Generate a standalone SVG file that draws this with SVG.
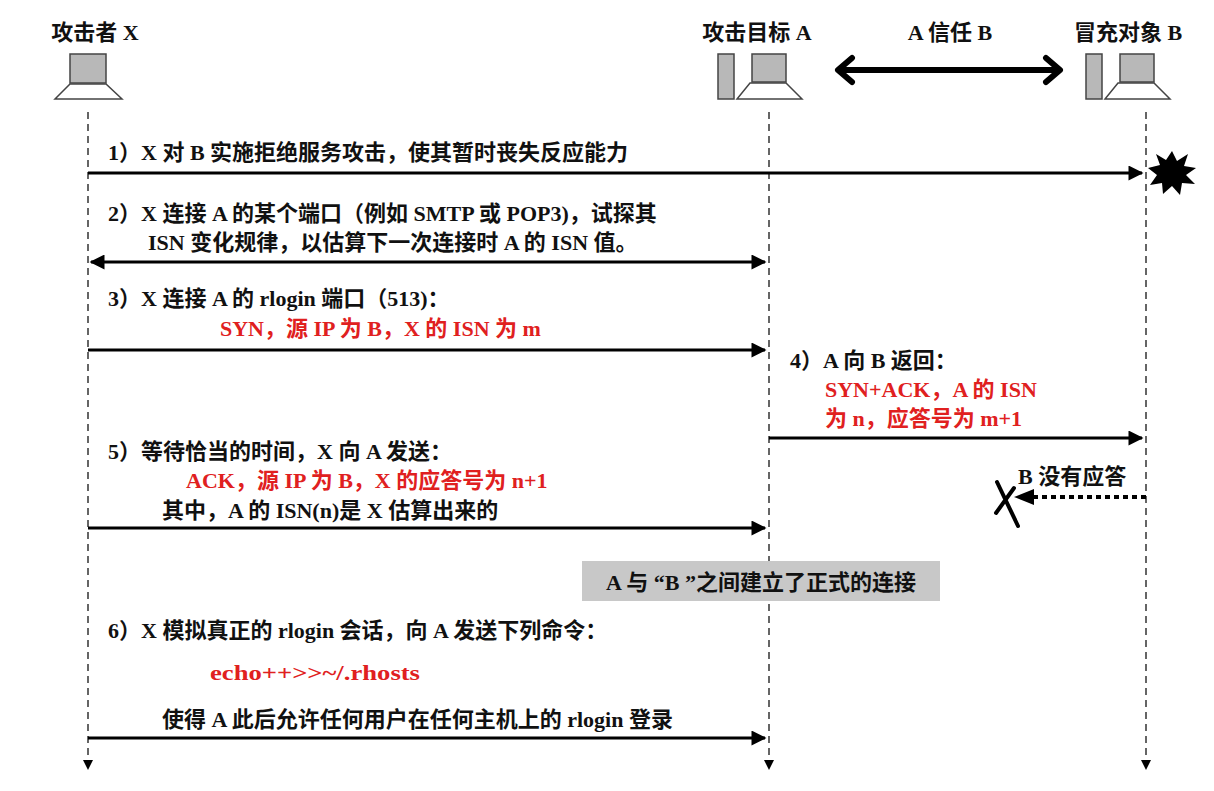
<svg xmlns="http://www.w3.org/2000/svg" width="1214" height="791" viewBox="0 0 1214 791">
<defs>
<style>
text{font-family:"Liberation Serif","Noto Sans CJK SC",serif;font-size:22px;font-weight:bold;fill:#111}
.r{fill:#e02020}
.life{stroke:#333;stroke-width:1.5;stroke-dasharray:7,5;fill:none}
.msg{stroke:#000;stroke-width:3;fill:none}
.mon{fill:#b8b8b8;stroke:#444;stroke-width:1.5}
.base{fill:#fff;stroke:#444;stroke-width:1.5}
</style>
<marker id="ah" viewBox="0 0 10 10" refX="9" refY="5" markerWidth="6" markerHeight="5" orient="auto-start-reverse" markerUnits="strokeWidth"><path d="M0,0L10,5L0,10z" fill="#000"/></marker>
</defs>
<rect width="1214" height="791" fill="#fff"/>
<g id="nodeX">
<text x="95" y="40" text-anchor="middle" font-size="23">攻击者 X</text>
<rect class="mon" x="70" y="54" width="36" height="29"/>
<path class="base" d="M70,84H106L122,99H55Z"/>
</g>
<g id="nodeA">
<text x="757" y="40" text-anchor="middle" font-size="23">攻击目标 A</text>
<rect class="mon" x="718" y="54" width="16" height="45"/>
<rect class="mon" x="752" y="54" width="34" height="28"/>
<path class="base" d="M750,83H786L802,99H737Z"/>
</g>
<g id="nodeB">
<text x="1128" y="40" text-anchor="middle" font-size="23">冒充对象 B</text>
<rect class="mon" x="1086" y="54" width="16" height="45"/>
<rect class="mon" x="1120" y="54" width="34" height="28"/>
<path class="base" d="M1118,83H1154L1170,99H1105Z"/>
</g>
<g id="trust">
<text x="950" y="40" text-anchor="middle" font-size="23">A 信任 B</text>
<path d="M840,70H1058M852,58L838,70L852,82M1046,58L1060,70L1046,82" stroke="#000" stroke-width="6" fill="none" stroke-linecap="round" stroke-linejoin="round"/>
</g>
<g id="connectors">
<path class="life" d="M88,112V762"/>
<path class="life" d="M769,112V762"/>
<path class="life" d="M1146,112V762"/>
<path d="M83,760L88,770L93,760Z M764,760L769,770L774,760Z M1141,760L1146,770L1151,760Z" fill="#000"/>
<path class="msg" d="M88,173H1142" marker-end="url(#ah)"/>
<path class="msg" d="M91,262H765" marker-start="url(#ah)" marker-end="url(#ah)"/>
<path class="msg" d="M88,350H765" marker-end="url(#ah)"/>
<path class="msg" d="M769,438H1142" marker-end="url(#ah)"/>
<path class="msg" d="M88,528H765" marker-end="url(#ah)"/>
<path class="msg" d="M88,738H765" marker-end="url(#ah)"/>
<path d="M1146,497H1028" stroke="#000" stroke-width="4" stroke-dasharray="5,4" fill="none"/>
<path d="M1034,489L1014,497L1034,505Z" fill="#000"/>
</g>
<g id="explosion">
<path d="M1172,151L1177,161L1188,154L1184,166L1196,168L1186,175L1195,184L1182,183L1180,195L1172,186L1163,194L1162,183L1150,185L1157,175L1148,168L1160,165L1156,154L1166,160Z" fill="#000"/>
</g>
<g id="noreply">
<path d="M997,482L1018,526M996,513L1014,488" stroke="#000" stroke-width="4" stroke-linecap="round"/>
<text x="1018" y="484">B 没有应答</text>
</g>
<g id="labels">
<text x="108" y="160">1）X 对 B 实施拒绝服务攻击，使其暂时丧失反应能力</text>
<text x="108" y="221">2）X 连接 A 的某个端口（例如 SMTP 或 POP3)，试探其</text>
<text x="148" y="250">ISN 变化规律，以估算下一次连接时 A 的 ISN 值。</text>
<text x="108" y="306">3）X 连接 A 的 rlogin 端口（513)：</text>
<text class="r" x="220" y="336">SYN，源 IP 为 B，X 的 ISN 为 m</text>
<text x="790" y="368">4）A 向 B 返回：</text>
<text class="r" x="825" y="397">SYN+ACK，A 的 ISN</text>
<text class="r" x="825" y="426">为 n，应答号为 m+1</text>
<text x="108" y="459">5）等待恰当的时间，X 向 A 发送：</text>
<text class="r" x="186" y="488">ACK，源 IP 为 B，X 的应答号为 n+1</text>
<text x="162" y="518">其中，A 的 ISN(n)是 X 估算出来的</text>
<text x="108" y="638">6）X 模拟真正的 rlogin 会话，向 A 发送下列命令：</text>
<text class="r" x="210" y="680" font-size="28" textLength="210" lengthAdjust="spacingAndGlyphs">echo++&gt;&gt;~/.rhosts</text>
<text x="162" y="727">使得 A 此后允许任何用户在任何主机上的 rlogin 登录</text>
</g>
<g id="established">
<rect x="582" y="561" width="358" height="40" fill="#c8c8c8"/>
<text x="761" y="590" text-anchor="middle" font-weight="normal" font-size="23">A 与 “B ”之间建立了正式的连接</text>
</g>
</svg>
